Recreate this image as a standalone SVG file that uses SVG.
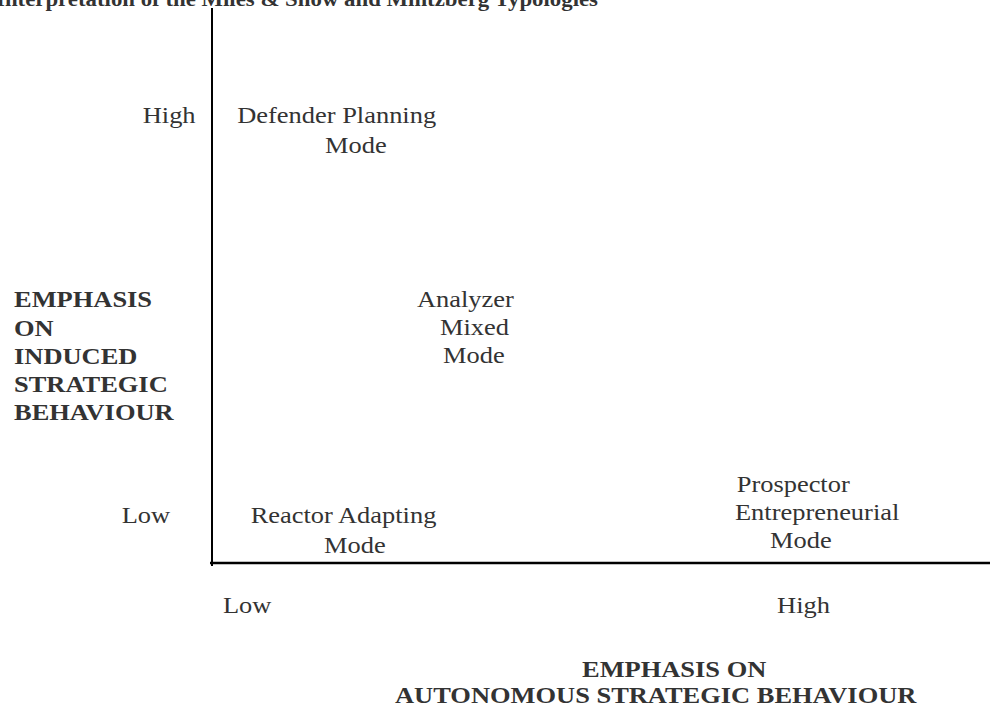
<svg xmlns="http://www.w3.org/2000/svg" width="990" height="711" viewBox="0 0 990 711">
<style>
  text { font-family: "Liberation Serif", "Times New Roman", serif; font-size: 23px; fill: #333; }
  .b { font-weight: bold; }
  .axis { stroke: #000; fill: none; }
</style>
<rect width="990" height="711" fill="#fff"/>
<g id="title">
  <text class="b" x="-4" y="6" textLength="602" lengthAdjust="spacingAndGlyphs" style="font-size:20px">Interpretation of the Miles &amp; Snow and Mintzberg Typologies</text>
</g>
<g id="connectors">
  <line class="axis" x1="212" y1="8" x2="212" y2="566" stroke-width="2"/>
  <line class="axis" x1="210" y1="563" x2="990" y2="563" stroke-width="2.5"/>
</g>
<g transform="scale(1.15 1)">
  <g id="y-high"><text x="124.1" y="123">High</text></g>
  <g id="y-low"><text x="105.8" y="523">Low</text></g>
  <g id="x-low"><text x="193.9" y="613">Low</text></g>
  <g id="x-high"><text x="675.7" y="613">High</text></g>
  <g id="defender">
    <text x="206.3" y="123">Defender Planning</text>
    <text x="282.6" y="153">Mode</text>
  </g>
  <g id="analyzer">
    <text x="362.6" y="307">Analyzer</text>
    <text x="382.6" y="335">Mixed</text>
    <text x="385.2" y="363">Mode</text>
  </g>
  <g id="reactor">
    <text x="218" y="523">Reactor Adapting</text>
    <text x="281.7" y="553">Mode</text>
  </g>
  <g id="prospector">
    <text x="640.6" y="492">Prospector</text>
    <text x="639.1" y="520">Entrepreneurial</text>
    <text x="669.6" y="548">Mode</text>
  </g>
  <g id="y-axis-label">
    <text class="b" x="12.2" y="307">EMPHASIS</text>
    <text class="b" x="12.2" y="336">ON</text>
    <text class="b" x="12.2" y="364">INDUCED</text>
    <text class="b" x="12.2" y="392">STRATEGIC</text>
    <text class="b" x="12.2" y="420">BEHAVIOUR</text>
  </g>
  <g id="x-axis-label">
    <text class="b" x="506.1" y="677">EMPHASIS ON</text>
    <text class="b" x="343.5" y="703">AUTONOMOUS STRATEGIC BEHAVIOUR</text>
  </g>
</g>
</svg>
